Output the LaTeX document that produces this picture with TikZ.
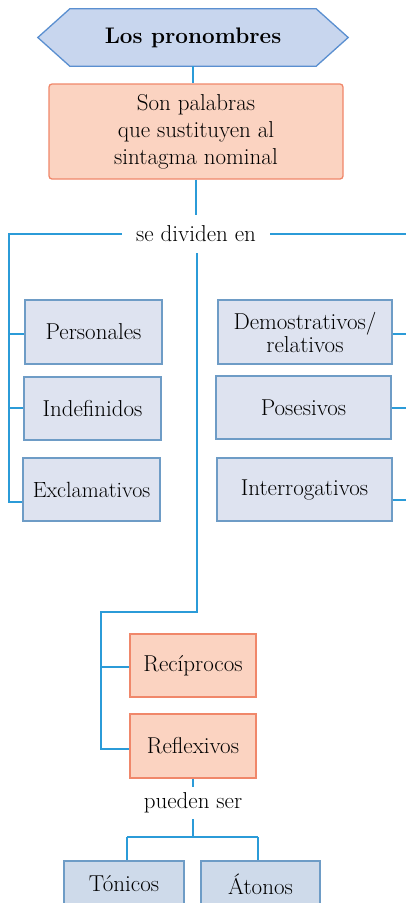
\documentclass[tikz,border=0pt]{standalone}
\usetikzlibrary{backgrounds}
\definecolor{lineblue}{HTML}{2B9BD8}
\definecolor{hexfill}{HTML}{C8D6EE}
\definecolor{hexdraw}{HTML}{5A8FD0}
\definecolor{orfill}{HTML}{FBD3C1}
\definecolor{ordraw}{HTML}{F0876A}
\definecolor{bxfill}{HTML}{DEE3F0}
\definecolor{bxdraw}{HTML}{6E9CC6}
\definecolor{btfill}{HTML}{CEDAEA}
\begin{document}
\begin{tikzpicture}[x=1pt,y=-1pt,
  conn/.style={draw=lineblue, line width=1.3pt},
  txt/.style={font=\fontsize{23}{25}\selectfont, align=center, inner sep=0pt, text=black},
  catbox/.style={txt, draw=bxdraw, fill=bxfill, line width=1.3pt},
  redbox/.style={txt, draw=ordraw, fill=orfill, line width=1.3pt},
  botbox/.style={txt, draw=bxdraw, fill=btfill, line width=1.3pt},
]
\useasboundingbox (0,0) rectangle (406,903);

% title hexagon
\node[font=\fontsize{22.5}{26}\selectfont\bfseries, inner sep=0pt, text=black,
      minimum width=310, minimum height=57] (hex) at (193,37.5) {Los pronombres};
\begin{scope}[on background layer]
\draw[draw=hexdraw, fill=hexfill, line width=1.3pt]
  (hex.west) -- ([xshift=32]hex.north west) -- ([xshift=-32]hex.north east)
  -- (hex.east) -- ([xshift=-32]hex.south east) -- ([xshift=32]hex.south west) -- cycle;
\end{scope}

% definition box
\node[redbox, rounded corners=3pt, minimum width=294, minimum height=95,
      font=\fontsize{23}{27}\selectfont] (def) at (196,131.5)
  {Son palabras\\que sustituyen al\\sintagma nominal};

% labels
\node[txt, minimum height=38, inner xsep=14pt] (sd) at (196,234) {se dividen en};
\node[txt, minimum height=32, inner xsep=4pt] (ps) at (193,803) {pueden ser};

% left column
\node[catbox, minimum width=137, minimum height=64] (pers) at (93.5,332) {Personales};
\node[catbox, minimum width=137, minimum height=63] (indef) at (92.5,408.5) {Indefinidos};
\node[catbox, minimum width=137, minimum height=63, font=\fontsize{22}{24}\selectfont] (excl) at (91.5,489.5) {Exclamativos};

% right column
\node[catbox, minimum width=174, minimum height=64, font=\fontsize{23}{23}\selectfont] (dem) at (305,332) {Demostrativos/\\relativos};
\node[catbox, minimum width=175, minimum height=63] (pos) at (303.5,407.5) {Posesivos};
\node[catbox, minimum width=175, minimum height=63] (interr) at (304.5,489.5) {Interrogativos};

% lower boxes
\node[redbox, minimum width=126, minimum height=63] (recip) at (193,665.5) {Recíprocos};
\node[redbox, minimum width=126, minimum height=64] (refl) at (193,746) {Reflexivos};
\node[botbox, minimum width=120, minimum height=46] (ton) at (124,884) {Tónicos};
\node[botbox, minimum width=119, minimum height=46] (aton) at (260.5,884) {Átonos};

% coordinates
\coordinate (L0) at (9,234);
\coordinate (L3) at (9,502);
\coordinate (R0) at (406,234);
\coordinate (RX) at (406,0);
\coordinate (M1) at (197,612);
\coordinate (M2) at (101,612);
\coordinate (M3) at (101,749);
\coordinate (J) at (193,837);
\coordinate (JL) at (127,837);
\coordinate (JR) at (258,837);

% connectors
\draw[conn] (hex.south) -- (hex.south |- def.north);
\draw[conn] (def.south) -- (sd.north);
\draw[conn] (sd.west) -- (L0) -- (L3) -- (L3 -| excl.west);
\draw[conn] (L0 |- 0,334) -- (pers.west |- 0,334);
\draw[conn] (L0 |- 0,408) -- (indef.west |- 0,408);
\draw[conn] (sd.east) -- (R0);
\draw[conn] (dem.east |- 0,334) -- (RX |- 0,334);
\draw[conn] (pos.east |- 0,408) -- (RX |- 0,408);
\draw[conn] (interr.east |- 0,500) -- (RX |- 0,500);
\draw[conn] (sd.south -| M1) -- (M1) -- (M2) -- (M3) -- (M3 -| refl.west);
\draw[conn] (M2 |- 0,667) -- (recip.west |- 0,667);
\draw[conn] (refl.south) -- (ps.north);
\draw[conn] (ps.south) -- (J);
\draw[conn] (JL) -- (JR);
\draw[conn] (JL) -- (JL |- ton.north);
\draw[conn] (JR) -- (JR |- aton.north);
\end{tikzpicture}
\end{document}
